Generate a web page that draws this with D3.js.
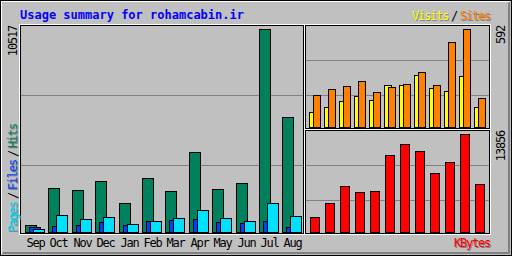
<!DOCTYPE html>
<html>
<head>
<meta charset="utf-8">
<script src="https://cdn.jsdelivr.net/npm/d3@7"></script>
<style>
  body { margin: 0; background: #c0c0c0; }
  text { font-family: "DejaVu Sans Mono", monospace; }
</style>
</head>
<body>
<div id="chart"></div>
<script>
// monthly figures
var months = ["Sep", "Oct", "Nov", "Dec", "Jan", "Feb", "Mar", "Apr", "May", "Jun", "Jul", "Aug"];
var hits   = [363, 2267, 2164, 2630, 1505, 2786, 2112, 4135, 2215, 2527, 10517, 5951];
var files  = [244, 296, 348, 503, 348, 555, 607, 659, 503, 451, 555, 244];
var pages  = [140, 867, 659, 763, 400, 555, 711, 1126, 711, 555, 1489, 815];
var visits = [92, 121, 159, 189, 165, 254, 254, 314, 236, 219, 308, 121];
var sites  = [193, 230, 248, 278, 211, 242, 260, 332, 254, 513, 592, 175];
var kbytes = [2121, 4101, 6504, 5656, 5797, 10888, 12443, 11453, 8343, 9898, 13856, 6787];
var title = "Usage summary for rohamcabin.ir";

function init() {
    var w = 512, h = 256;
    var grey = "#c0c0c0", dkgrey = "#808080";
    var small = "12px", squeeze = "-1.2px"; // ~6px per character like the gd small font

    var svg = d3.select("#chart")
        .append("svg")
        .attr("width", w)
        .attr("height", h)
        .attr("shape-rendering", "crispEdges");

    svg.append("rect").attr("width", w).attr("height", h).attr("fill", grey);

    // outer bevel
    svg.append("rect").attr("x", 0.5).attr("y", 0.5).attr("width", w - 1).attr("height", h - 1)
        .attr("fill", "none").attr("stroke", "black");
    svg.append("path").attr("d", "M1.5,254V1.5H510").attr("fill", "none").attr("stroke", "white");
    svg.append("path").attr("d", "M2,253.5H509.5V2M3,252.5H508.5V3").attr("fill", "none").attr("stroke", dkgrey);

    // panel frames: white shadow outside, black inside
    function frame(x0, y0, x1, y1) {
        svg.append("rect").attr("x", x0 - 0.5).attr("y", y0 - 0.5)
            .attr("width", x1 - x0 + 2).attr("height", y1 - y0 + 2)
            .attr("fill", "none").attr("stroke", "white");
        svg.append("rect").attr("x", x0 + 0.5).attr("y", y0 + 0.5)
            .attr("width", x1 - x0).attr("height", y1 - y0)
            .attr("fill", "none").attr("stroke", "black");
    }
    frame(20, 25, 303, 233);
    frame(305, 25, 489, 128);
    frame(305, 130, 489, 233);

    // grid lines sit at thirds of each panel
    function grid(top, bottom, x0, x1) {
        var g = d3.scaleLinear().domain([0, 3]).range([bottom, top]);
        svg.append("g").selectAll("line")
            .data([1, 2])
            .enter().append("line")
            .attr("x1", x0).attr("x2", x1)
            .attr("y1", d => Math.round(g(d)) + 0.5)
            .attr("y2", d => Math.round(g(d)) + 0.5)
            .attr("stroke", dkgrey);
    }
    grid(25, 235, 21, 303);
    grid(25, 130, 306, 489);
    grid(130, 235, 306, 489);

    // scales
    var xLeft = d3.scaleBand().domain(months).range([25, 25 + 12 * 23.4]);
    var xRight = d3.scaleBand().domain(months).range([309, 309 + 12 * 15]);
    var yLeft = d3.scaleLinear().domain([0, d3.max(hits)]).range([232.5, 29.5]);
    var yTop = d3.scaleLinear().domain([0, d3.max(visits.concat(sites))]).range([127.5, 29.5]);
    var yBottom = d3.scaleLinear().domain([0, d3.max(kbytes)]).range([232.5, 134.5]);

    function bars(values, x, offset, width, y, color) {
        var base = y(0);
        svg.append("g").selectAll("rect")
            .data(values)
            .enter().append("rect")
            .attr("x", (d, i) => Math.round(x(months[i])) + offset + 0.5)
            .attr("y", d => Math.round(y(d) - 0.5) + 0.5)
            .attr("width", width - 1)
            .attr("height", d => base - (Math.round(y(d) - 0.5) + 0.5))
            .attr("fill", color)
            .attr("stroke", "black");
    }
    bars(hits, xLeft, 0, 12, yLeft, "#00805c");
    bars(files, xLeft, 4, 12, yLeft, "#0040ff");
    bars(pages, xLeft, 8, 12, yLeft, "#00e0ff");
    bars(visits, xRight, 0, 8, yTop, "#ffff00");
    bars(sites, xRight, 4, 8, yTop, "#ff8000");
    bars(kbytes, xRight, 1, 10, yBottom, "#ff0000");

    // month labels
    svg.append("g").selectAll("text")
        .data(months)
        .enter().append("text")
        .attr("x", d => Math.round(xLeft(d)) + 10.5)
        .attr("y", 246.5)
        .attr("text-anchor", "middle")
        .style("font-size", small)
        .style("letter-spacing", squeeze)
        .text(d => d);

    // title
    svg.append("text")
        .attr("x", 20).attr("y", 19)
        .attr("fill", "#0000ff")
        .style("font-size", "12px")
        .style("font-weight", "bold")
        .text(title);

    // maximum values, written upwards
    function upLabel(x, y, txt) {
        svg.append("text")
            .attr("transform", "translate(" + x + "," + y + ") rotate(-90)")
            .attr("text-anchor", "end")
            .style("font-size", small)
            .style("letter-spacing", squeeze)
            .text(txt);
    }
    upLabel(17, 26, d3.max(hits));
    upLabel(504.5, 26, d3.max(visits.concat(sites)));
    upLabel(504.5, 131, d3.max(kbytes));

    // legend text with a dark grey shadow
    function legend(x, y, rotate, parts) {
        var pos = 0;
        parts.forEach(function(p) {
            var len = p.text.length * 6;
            [[1, dkgrey], [0, p.color]].forEach(function(s) {
                var tx, ty;
                if (p.text == "/" && s[0] == 1) return;
                if (rotate) { tx = x + s[0]; ty = y - pos + s[0]; }
                else { tx = x + pos + s[0]; ty = y + s[0]; }
                svg.append("text")
                    .attr("transform", "translate(" + tx + "," + ty + ")" + (rotate ? " rotate(-90)" : ""))
                    .attr("fill", s[1])
                    .style("font-size", small)
                    .style("letter-spacing", squeeze)
                    .text(p.text);
            });
            pos += len + 3;
        });
    }
    legend(16.5, 232, true, [
        {text: "Pages", color: "#00e0ff"}, {text: "/", color: "black"},
        {text: "Files", color: "#0040ff"}, {text: "/", color: "black"},
        {text: "Hits", color: "#00805c"}]);
    legend(412, 20, false, [
        {text: "Visits", color: "#ffff00"}, {text: "/", color: "black"},
        {text: "Sites", color: "#ff8000"}]);
    legend(454, 246.5, false, [{text: "KBytes", color: "#ff0000"}]);
}

window.onload = init;
</script>
</body>
</html>
